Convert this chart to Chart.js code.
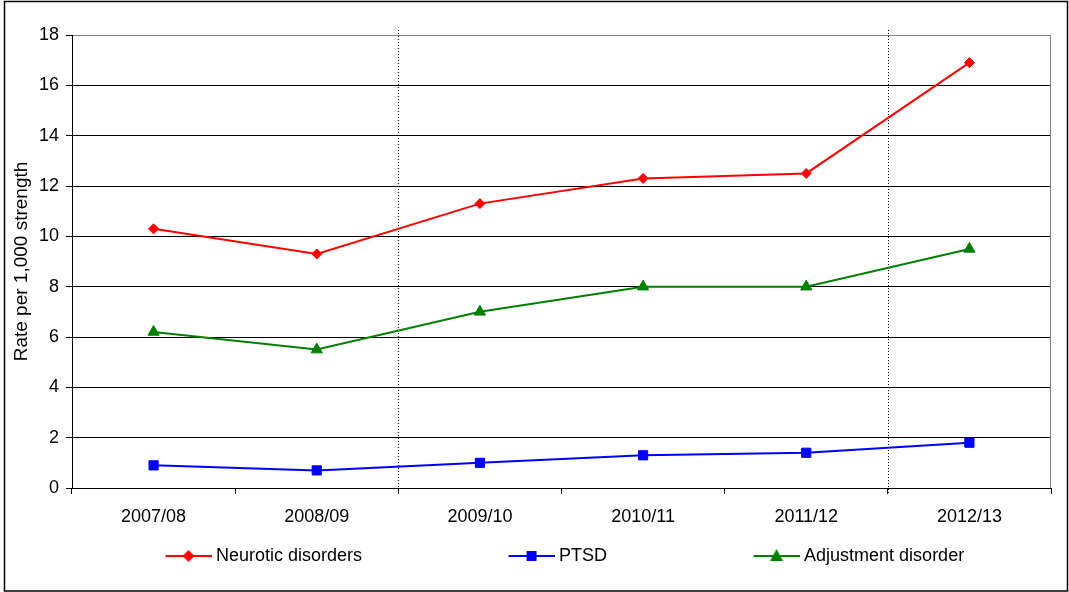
<!DOCTYPE html>
<html>
<head>
<meta charset="utf-8">
<title>Rate per 1,000 strength</title>
<script src="https://cdn.jsdelivr.net/npm/chart.js@4/dist/chart.umd.min.js"></script>
<style>
  html, body { margin: 0; padding: 0; background: #fff; }
  #wrap { position: relative; width: 1069px; height: 592px; }
</style>
</head>
<body>
<div id="wrap"><canvas id="chart"></canvas></div>
<script>
// Financial years on the category axis
const categories = ['2007/08', '2008/09', '2009/10', '2010/11', '2011/12', '2012/13'];

// Rates per 1,000 strength
const neuroticDisorders  = [10.3, 9.3, 11.3, 12.3, 12.5, 16.9];
const ptsd               = [0.9, 0.7, 1.0, 1.3, 1.4, 1.8];
const adjustmentDisorder = [6.2, 5.5, 7.0, 8.0, 8.0, 9.5];

const seriesNames = ['Neurotic disorders', 'PTSD', 'Adjustment disorder'];

// Value axis range
const yMin = 0;
const yMax = 18;
const yStep = 2;

// Dotted separators sit between year groups (in category index units)
const periodBreaks = [1.5, 4.5];

const FONT = 'Liberation Sans, Arial, sans-serif';
const LEGEND_BOX = 169;

// Legend symbol: a short line with the series marker in its middle
function legendGlyph(color, shape) {
  const w = LEGEND_BOX + 9, h = 16;
  const c = document.createElement('canvas');
  c.width = w; c.height = h;
  const g = c.getContext('2d');
  const x0 = w - 46, cy = h / 2, cx = x0 + 23;
  g.strokeStyle = color;
  g.lineWidth = 2;
  g.beginPath(); g.moveTo(x0, cy); g.lineTo(w, cy); g.stroke();
  g.fillStyle = color;
  g.beginPath();
  if (shape === 'rectRot') {
    g.moveTo(cx, cy - 6); g.lineTo(cx + 6, cy); g.lineTo(cx, cy + 6); g.lineTo(cx - 6, cy);
  } else if (shape === 'rect') {
    g.rect(cx - 5, cy - 5, 10, 10);
  } else {
    g.moveTo(cx, cy - 7); g.lineTo(cx + 6.5, cy + 5); g.lineTo(cx - 6.5, cy + 5);
  }
  g.closePath();
  g.fill();
  return c;
}

const styles = [
  { color: '#ff0000', shape: 'rectRot', radius: 5 },
  { color: '#0000ff', shape: 'rect', radius: 6.5 },
  { color: '#008000', shape: 'triangle', radius: 6.5 }
];
const glyphs = styles.map(s => legendGlyph(s.color, s.shape));

const seriesData = [neuroticDisorders, ptsd, adjustmentDisorder];

// Outer frame, grey right edge of the plot and dotted year-group separators
const decorations = {
  id: 'decorations',
  beforeDraw(chart) {
    const { ctx, width, height } = chart;
    ctx.save();
    ctx.fillStyle = '#ffffff';
    ctx.fillRect(0, 0, width, height);
    ctx.strokeStyle = '#000000';
    ctx.lineWidth = 1.5;
    ctx.strokeRect(4.5, 1.5, width - 6, height - 2.5);
    ctx.restore();
  },
  beforeDatasetsDraw(chart) {
    const { ctx, chartArea, scales } = chart;
    ctx.save();
    const r = Math.round(chartArea.right) - 0.5;
    ctx.strokeStyle = '#808080';
    ctx.lineWidth = 1;
    ctx.beginPath();
    ctx.moveTo(r, chartArea.top);
    ctx.lineTo(r, chartArea.bottom);
    ctx.stroke();

    ctx.strokeStyle = '#000000';
    ctx.setLineDash([1, 2]);
    periodBreaks.forEach(v => {
      const px = Math.round(scales.x.getPixelForValue(v)) + 0.5;
      ctx.beginPath();
      ctx.moveTo(px, chartArea.top - 5);
      ctx.lineTo(px, chartArea.bottom + 6);
      ctx.stroke();
    });
    ctx.restore();
  }
};

new Chart(document.getElementById('chart'), {
  type: 'line',
  data: {
    labels: categories,
    datasets: seriesNames.map((name, i) => ({
      label: name,
      data: seriesData[i],
      borderColor: styles[i].color,
      backgroundColor: styles[i].color,
      borderWidth: 2,
      pointStyle: styles[i].shape,
      pointRadius: styles[i].radius,
      pointHoverRadius: styles[i].radius,
      pointBorderWidth: 1,
      pointBackgroundColor: styles[i].color,
      pointBorderColor: styles[i].color,
      tension: 0,
      fill: false
    }))
  },
  options: {
    responsive: true,
    maintainAspectRatio: false,
    animation: false,
    layout: { padding: { left: 19, right: 18, top: 35, bottom: 17 } },
    scales: {
      x: {
        type: 'category',
        offset: true,
        afterFit(scale) { scale.height = 40; },
        grid: {
          offset: true,
          drawOnChartArea: false,
          drawTicks: true,
          tickLength: 6,
          color: '#000000',
          tickColor: '#000000'
        },
        border: { display: true, color: '#000000', width: 1 },
        ticks: {
          color: '#000000',
          padding: 12,
          maxRotation: 0,
          autoSkip: false,
          font: { family: FONT, size: 18 }
        }
      },
      y: {
        min: yMin,
        max: yMax,
        afterFit(scale) { scale.width = 53; },
        grid: {
          color: ctx => (ctx.tick && ctx.tick.value === yMax ? '#808080' : '#000000'),
          tickColor: '#000000',
          tickLength: 6,
          lineWidth: 1
        },
        border: { display: true, color: '#000000', width: 1 },
        ticks: {
          stepSize: yStep,
          color: '#000000',
          padding: 7,
          font: { family: FONT, size: 18 }
        },
        title: {
          display: true,
          text: 'Rate per 1,000 strength',
          color: '#000000',
          padding: { top: -9, bottom: 0 },
          font: { family: FONT, size: 19, lineHeight: 1.2 }
        }
      }
    },
    plugins: {
      tooltip: { enabled: false },
      legend: {
        display: true,
        position: 'bottom',
        align: 'start',
        fullSize: true,
        labels: {
          usePointStyle: true,
          pointStyleWidth: LEGEND_BOX,
          padding: 19,
          color: '#000000',
          font: { family: FONT, size: 18 },
          generateLabels(chart) {
            const items = Chart.defaults.plugins.legend.labels.generateLabels(chart);
            items.forEach((it, i) => { it.pointStyle = glyphs[i]; });
            return items;
          }
        }
      }
    }
  },
  plugins: [decorations]
});
</script>
</body>
</html>
